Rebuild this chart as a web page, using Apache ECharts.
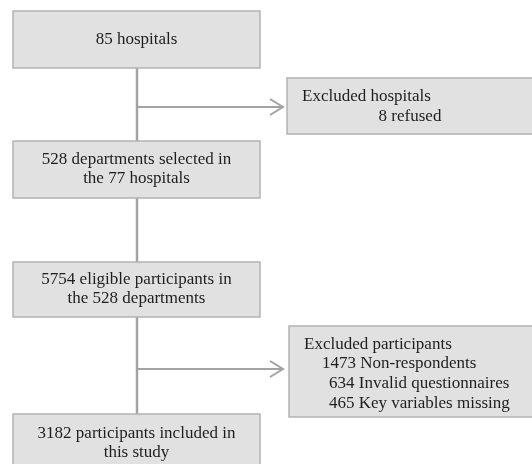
<!DOCTYPE html>
<html>
<head>
<meta charset="utf-8">
<script src="https://cdn.jsdelivr.net/npm/echarts@6/dist/echarts.min.js"></script>
<style>html,body{margin:0;padding:0;background:#fff;}#c{width:532px;height:464px;}</style>
</head>
<body>
<div id="c"></div>
<script>
// ---- content ----
const mainSteps = [
  ['85 hospitals'],
  ['528 departments selected in', 'the 77 hospitals'],
  ['5754 eligible participants in', 'the 528 departments'],
  ['3182 participants included in', 'this study']
];
const exclusionTitles = ['Excluded hospitals', 'Excluded participants'];
const exclusionDetails = [
  ['8 refused'],
  ['1473 Non-respondents', '634 Invalid questionnaires', '465 Key variables missing']
];
// which main step each exclusion branches from
const exclusionFrom = [0, 2];

// ---- layout (chart units = pixels) ----
const mainX = [13, 260];
const mainY = [[11, 68], [141, 198], [262, 317], [414, 472]];
const exclX = [[287, 533], [289, 533]];
const exclY = [[78, 134], [326, 417]];
const branchY = [107, 369];
const spineX = 137;
const arrowTipX = 283;
// line positions inside exclusion boxes: [x, y, align]
const exclTitlePos = [[302, 97], [304, 345]];
const exclDetailPos = [[[410, 117, 'center']], [[322, 364, 'left'], [329, 384, 'left'], [329, 404, 'left']]];

const FONT = '"Liberation Serif", "Times New Roman", serif';
const FS = 17;
const LH = 19;
const FILL = '#e1e1e1';
const BORDER = '#b3b3b3';
const LINE = '#a3a3a3';
const TXT = '#1e1e1e';

const chart = echarts.init(document.getElementById('c'), null, {renderer: 'canvas'});

function textEl(api, x, y, s, align) {
  const p = api.coord([x, y]);
  return {type: 'text', x: p[0], y: p[1], style: {text: s, font: FS + 'px ' + FONT, fill: TXT, align: align || 'center', verticalAlign: 'middle'}};
}
function rectEl(api, x0, y0, x1, y1) {
  const a = api.coord([x0, y0]), b = api.coord([x1, y1]);
  return {type: 'rect', shape: {x: a[0], y: a[1], width: b[0] - a[0], height: b[1] - a[1]},
    style: {fill: FILL, stroke: BORDER, lineWidth: 1.5}};
}

const mainData = mainSteps.map((s, i) => ({value: [i], name: s.join(' ')}));
const exclData = exclusionTitles.map((t, i) => ({value: [i], name: t}));
// connectors: vertical spine segments and branch arrows
const spineData = mainSteps.slice(0, -1).map((s, i) => ({value: [i]}));
const branchData = exclusionTitles.map((t, i) => ({value: [i]}));

chart.setOption({
  animation: false,
  grid: {left: 0, right: 0, top: 0, bottom: 0},
  xAxis: {type: 'value', min: 0, max: 532, show: false},
  yAxis: {type: 'value', min: 0, max: 464, inverse: true, show: false},
  series: [
    {
      type: 'custom', data: spineData, z: 1,
      renderItem: (params, api) => {
        const i = api.value(0);
        const a = api.coord([spineX, mainY[i][1]]), b = api.coord([spineX, mainY[i + 1][0]]);
        return {type: 'line', shape: {x1: a[0], y1: a[1], x2: b[0], y2: b[1]}, style: {stroke: LINE, lineWidth: 2.5}};
      }
    },
    {
      type: 'custom', data: branchData, z: 1,
      renderItem: (params, api) => {
        const i = api.value(0);
        const y = branchY[i];
        const a = api.coord([spineX, y]), b = api.coord([arrowTipX, y]);
        return {type: 'group', children: [
          {type: 'line', shape: {x1: a[0], y1: a[1], x2: b[0], y2: b[1]}, style: {stroke: LINE, lineWidth: 2.2}},
          {type: 'polyline', shape: {points: [[b[0] - 13, b[1] - 8], [b[0], b[1]], [b[0] - 13, b[1] + 8]]}, style: {stroke: LINE, lineWidth: 2, fill: null}}
        ]};
      }
    },
    {
      type: 'custom', data: mainData, z: 2,
      renderItem: (params, api) => {
        const i = api.value(0);
        const lines = mainSteps[i];
        const [y0, y1] = mainY[i];
        const cx = (mainX[0] + mainX[1]) / 2;
        const boxBottom = Math.min(y1, 464);
        let cy = i === mainSteps.length - 1 ? 443 : (y0 + y1) / 2;
        const children = [rectEl(api, mainX[0], y0, mainX[1], y1)];
        lines.forEach((s, k) => children.push(textEl(api, cx, cy + (k - (lines.length - 1) / 2) * LH, s, 'center')));
        return {type: 'group', children};
      }
    },
    {
      type: 'custom', data: exclData, z: 2,
      renderItem: (params, api) => {
        const i = api.value(0);
        const children = [rectEl(api, exclX[i][0], exclY[i][0], exclX[i][1], exclY[i][1])];
        children.push(textEl(api, exclTitlePos[i][0], exclTitlePos[i][1], exclusionTitles[i], 'left'));
        exclusionDetails[i].forEach((s, k) => {
          const p = exclDetailPos[i][k];
          children.push(textEl(api, p[0], p[1], s, p[2]));
        });
        return {type: 'group', children};
      }
    }
  ]
});
</script>
</body>
</html>
